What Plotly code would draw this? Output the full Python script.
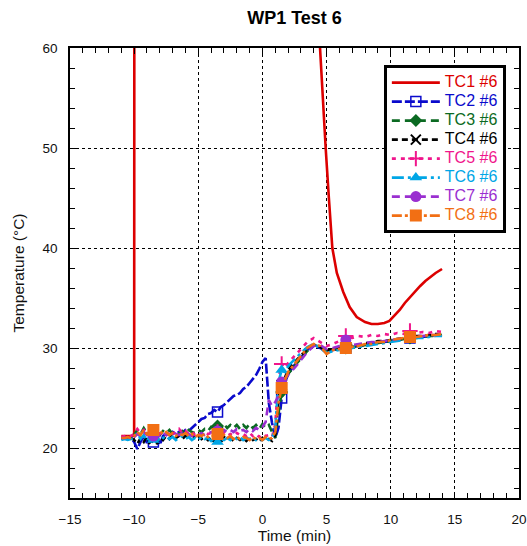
import plotly.graph_objects as go

title_text = "WP1 Test 6"
x_title = "Time (min)"
y_title = "Temperature (°C)"

series_names = ["TC1 #6", "TC2 #6", "TC3 #6", "TC4 #6", "TC5 #6", "TC6 #6", "TC7 #6", "TC8 #6"]

# TC1 (spikes far above the visible range between -10 and 4.3 min)
time_tc1 = [-11.0, -10.5, -10.0, -9.98, 4.2, 4.49, 4.7, 4.93, 5.18, 5.45, 5.8, 6.05, 6.3, 6.8, 7.35,
            8.0, 8.5, 9.0, 9.5, 9.9, 10.3, 10.7, 11.1, 11.5, 11.9, 12.3, 12.7, 13.1, 13.5, 14.0]
temp_tc1 = [21.2, 21.2, 21.2, 80.0, 80.0, 60.0, 55.0, 50.0, 45.0, 40.0, 37.5, 36.5, 35.6, 34.1, 33.1,
            32.6, 32.4, 32.4, 32.5, 32.7, 33.2, 33.8, 34.5, 35.1, 35.7, 36.2, 36.7, 37.1, 37.5, 37.9]

# common time base for TC2..TC8
time = [-11.0, -10.75, -10.5, -10.25, -10.0, -9.75, -9.5, -9.25, -9.0, -8.75, -8.5, -8.25, -8.0,
        -7.75, -7.5, -7.25, -7.0, -6.75, -6.5, -6.25, -6.0, -5.75, -5.5, -5.25, -5.0, -4.75, -4.5,
        -4.25, -4.0, -3.75, -3.5, -3.25, -3.0, -2.75, -2.5, -2.25, -2.0, -1.75, -1.5, -1.25, -1.0,
        -0.75, -0.5, -0.25, 0.0, 0.25, 0.5, 0.75, 1.0, 1.25, 1.5, 1.75, 2.0, 2.5, 3.0, 3.5, 4.0,
        4.5, 5.0, 5.5, 6.0, 6.5, 7.0, 7.5, 8.0, 8.5, 9.0, 9.5, 10.0, 10.5, 11.0, 11.5, 12.0, 12.5,
        13.0, 13.5, 14.0]

tc2 = [21.0, 21.0, 21.1, 21.0, 20.6, 19.9, 20.6, 21.2, 20.5, 21.4, 20.6, 21.0, 20.3,
       21.2, 21.5, 21.3, 21.6, 21.4, 21.6, 21.5, 21.8, 21.7, 22.0, 22.3, 22.6, 22.9, 23.0,
       23.4, 23.5, 23.8, 23.6, 24.1, 24.3, 24.6, 24.8, 25.2, 25.3, 25.5, 25.9, 26.1, 26.5,
       26.9, 27.3, 27.9, 28.6, 29.0, 24.5, 22.5, 21.0, 22.0, 25.0, 26.5, 27.4, 28.3, 29.1, 29.8, 30.2,
       30.0, 29.6, 29.8, 29.9, 30.0, 30.1, 30.2, 30.3, 30.4, 30.5, 30.6, 30.7, 30.8, 30.9, 31.0, 31.1, 31.1,
       31.2, 31.3, 31.3]

tc3 = [21.0, 21.0, 21.0, 21.1, 21.3, 21.8, 21.4, 22.0, 21.5, 21.7, 21.4, 21.6, 21.3,
       21.7, 21.5, 21.8, 21.4, 21.6, 21.4, 21.7, 21.5, 21.8, 21.6, 21.5, 21.8, 21.6, 21.9,
       21.7, 22.1, 21.8, 22.2, 21.9, 22.4, 22.0, 22.3, 22.0, 22.3, 21.9, 22.3, 22.0, 22.4,
       22.0, 22.3, 21.9, 22.4, 22.0, 22.3, 21.6, 21.0, 23.4, 25.6, 26.6, 27.4, 28.2, 29.0, 29.7, 30.3,
       30.1, 29.7, 29.8, 29.9, 30.0, 30.1, 30.2, 30.3, 30.4, 30.5, 30.6, 30.7, 30.8, 30.9, 31.0, 31.0, 31.1,
       31.2, 31.2, 31.3]

tc4 = [20.9, 21.0, 20.9, 21.0, 20.8, 20.4, 21.0, 20.6, 21.2, 20.3, 20.9, 20.4, 21.1,
       20.8, 21.2, 20.9, 21.3, 21.0, 21.2, 20.9, 21.2, 21.0, 21.3, 21.0, 21.2, 20.9, 21.1,
       20.8, 21.2, 20.9, 21.1, 20.8, 21.1, 20.9, 21.0, 20.7, 21.0, 20.8, 21.0, 20.7, 21.0,
       20.8, 20.9, 20.6, 21.0, 20.7, 20.9, 20.7, 21.3, 24.8, 26.3, 27.0, 27.8, 28.6, 29.3, 29.9, 30.3,
       30.1, 29.7, 29.9, 30.0, 30.1, 30.3, 30.3, 30.5, 30.5, 30.7, 30.7, 30.8, 30.9, 31.0, 31.1, 31.2, 31.2,
       31.3, 31.4, 31.4]

tc5 = [21.1, 21.2, 21.1, 21.2, 21.4, 21.9, 21.5, 21.8, 21.3, 21.7, 21.5, 21.9, 21.4,
       21.6, 21.3, 21.7, 21.4, 21.6, 21.9, 21.5, 21.7, 21.4, 21.6, 21.3, 21.5, 21.3, 21.6,
       21.4, 21.5, 21.3, 21.6, 21.3, 21.5, 21.2, 21.4, 21.2, 21.5, 21.3, 21.4, 21.2, 21.5,
       21.2, 21.4, 21.1, 21.4, 21.2, 21.3, 21.1, 22.4, 26.9, 28.4, 28.0, 28.5, 29.2, 29.9, 30.6, 31.0,
       30.6, 30.2, 30.4, 30.7, 31.2, 31.0, 31.2, 31.1, 31.3, 31.2, 31.4, 31.3, 31.5, 31.4, 31.7, 31.5, 31.6,
       31.5, 31.7, 31.6]

tc6 = [20.8, 20.9, 20.8, 20.9, 21.0, 21.5, 20.9, 21.3, 20.7, 21.2, 20.8, 21.1, 20.7,
       21.0, 21.2, 20.9, 21.1, 20.8, 21.0, 21.2, 20.9, 21.1, 20.8, 21.0, 20.8, 21.1, 20.9,
       21.0, 20.7, 21.0, 20.6, 20.9, 20.8, 21.0, 20.8, 21.1, 20.9, 21.1, 20.8, 21.0, 20.9,
       21.1, 20.8, 21.0, 20.8, 21.0, 20.8, 21.0, 22.0, 26.6, 27.8, 27.6, 28.2, 28.9, 29.5, 30.1, 30.4,
       30.0, 29.5, 29.7, 29.8, 29.9, 30.0, 30.1, 30.2, 30.3, 30.4, 30.5, 30.6, 30.7, 30.8, 30.9, 31.0, 31.0,
       31.1, 31.2, 31.2]

tc7 = [21.0, 21.0, 21.1, 21.0, 21.1, 21.4, 21.2, 21.6, 21.3, 21.5, 21.2, 21.4, 21.2,
       21.5, 21.3, 21.4, 21.2, 21.4, 21.3, 21.5, 21.3, 21.4, 21.2, 21.4, 21.3, 21.5, 21.3,
       21.4, 21.6, 21.4, 21.7, 21.5, 21.8, 21.6, 21.8, 21.6, 21.9, 21.7, 21.8, 21.6, 21.9,
       21.7, 22.0, 21.8, 22.1, 22.6, 24.8, 24.2, 24.6, 25.2, 26.6, 26.9, 27.3, 28.0, 28.8, 29.6, 30.2,
       30.3, 29.9, 30.0, 30.2, 30.8, 30.3, 30.4, 30.5, 30.6, 30.6, 30.7, 30.8, 30.9, 31.0, 31.1, 31.2, 31.2,
       31.3, 31.3, 31.4]

tc8 = [21.0, 21.0, 21.1, 21.0, 21.2, 21.6, 21.3, 21.8, 21.4, 21.7, 21.8, 21.5, 21.7,
       21.4, 21.6, 21.3, 21.5, 21.2, 21.4, 21.3, 21.5, 21.2, 21.4, 21.1, 21.3, 21.2, 21.4,
       21.1, 21.3, 21.2, 21.4, 21.1, 21.3, 21.0, 21.2, 20.9, 21.1, 20.9, 21.1, 21.0, 20.8,
       21.1, 20.9, 21.0, 20.8, 21.1, 20.9, 21.0, 21.6, 24.5, 26.0, 26.8, 27.6, 28.4, 29.2, 30.0, 30.4,
       30.2, 29.4, 29.8, 29.9, 30.0, 30.1, 30.2, 30.4, 30.4, 30.6, 30.6, 30.8, 30.9, 31.0, 31.1, 31.1, 31.2,
       31.3, 31.3, 31.4]

# times at which the series' symbols are shown
marker_times = [-8.5, -3.5, 1.5, 6.5, 11.5]

series_values = [tc2, tc3, tc4, tc5, tc6, tc7, tc8]

tc1_color = "#DC0000"
styles = [
    dict(color="#0A0ACC", dash="10px,3px", symbol="square-open", size=10, lw=1.5),
    dict(color="#0B6A22", dash="8px,5px", symbol="diamond", size=10, lw=0),
    dict(color="#000000", dash="6px,4px", symbol="x-thin-open", size=10, lw=2),
    dict(color="#F0168C", dash="4px,5px", symbol="cross-thin-open", size=11, lw=2),
    dict(color="#00A6E6", dash="12px,4px,3px,4px", symbol="triangle-up", size=11, lw=0),
    dict(color="#9A2FD0", dash="8px,5px", symbol="circle", size=11, lw=0),
    dict(color="#F26F14", dash="10px,3px,3px,3px", symbol="square", size=12, lw=0),
]

FONT = "Liberation Sans, Arial, sans-serif"
LW = 2.6


def legend_label(name, color):
    return '<span style="font-size:16px;fill:%s">%s</span>' % (color, name)


fig = go.Figure()

fig.add_trace(go.Scatter(
    x=time_tc1, y=temp_tc1, mode="lines", name=legend_label(series_names[0], tc1_color),
    line=dict(color=tc1_color, width=LW), legendgroup="tc1"))

for name, vals, st in zip(series_names[1:], series_values, styles):
    fig.add_trace(go.Scatter(
        x=time, y=vals, mode="lines", name=name, showlegend=False, legendgroup=name,
        line=dict(color=st["color"], width=LW, dash=st["dash"])))
    mx, my = [], []
    for t, v in zip(time, vals):
        if t in marker_times:
            mx += [t, None]
            my += [v, None]
    fig.add_trace(go.Scatter(
        x=mx, y=my, mode="lines+markers", name=legend_label(name, st["color"]), legendgroup=name,
        connectgaps=False,
        line=dict(color=st["color"], width=LW, dash=st["dash"]),
        marker=dict(symbol=st["symbol"], size=st["size"], color=st["color"],
                    line=dict(color=st["color"], width=st["lw"]))))

axis_common = dict(
    showline=True, linecolor="black", linewidth=1.5, mirror="allticks",
    ticks="inside", ticklen=6, tickwidth=1.2, tickcolor="black",
    showgrid=True, gridcolor="black", gridwidth=1, griddash="3px,3px",
    zeroline=False, ticklabeloverflow="allow",
    tickfont=dict(family=FONT, size=13.5, color="#111111"),
)

fig.update_xaxes(
    range=[-15, 20], dtick=5, tick0=0,
    minor=dict(dtick=1, ticks="inside", ticklen=5, tickcolor="black", tickwidth=1, showgrid=False),
    title=dict(text=x_title, font=dict(family=FONT, size=15.5, color="#111111"), standoff=2),
    ticklabelstandoff=8,
    **axis_common)

fig.update_yaxes(
    range=[15, 60], dtick=10, tick0=0,
    minor=dict(dtick=2, ticks="inside", ticklen=5, tickcolor="black", tickwidth=1, showgrid=False),
    title=dict(text=y_title, font=dict(family=FONT, size=15.5, color="#111111"), standoff=14),
    ticklabelstandoff=8,
    **axis_common)

W, H = 527, 546
fig.update_layout(
    width=W, height=H,
    margin=dict(l=70, r=8, t=48, b=48, autoexpand=False),
    paper_bgcolor="white", plot_bgcolor="white",
    font=dict(family=FONT, color="#111111"),
    title=dict(text=title_text, x=0.5, xref="paper", y=1 - 18 / H, yref="container",
               xanchor="center", yanchor="middle",
               font=dict(family=FONT, size=18, color="black", weight="bold")),
    legend=dict(x=0.699, y=0.962, xanchor="left", yanchor="top",
                bordercolor="black", borderwidth=3, bgcolor="white",
                font=dict(family=FONT, size=12),
                itemwidth=48, tracegroupgap=0),
    showlegend=True,
)

# remove the default page margin so the figure fills the window exactly
fig.write_html("out.html",
               config={"displayModeBar": False},
               post_script="document.body.style.margin='0';document.body.style.overflow='hidden';")
